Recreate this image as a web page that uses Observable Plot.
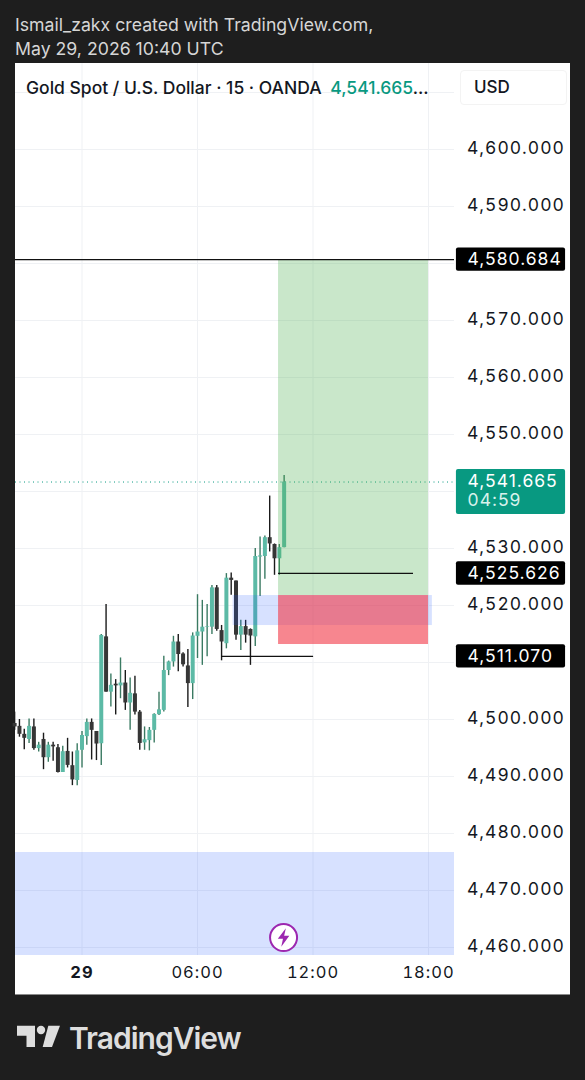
<!DOCTYPE html>
<html>
<head>
<meta charset="utf-8">
<script src="https://cdn.jsdelivr.net/npm/d3@7"></script>
<script src="https://cdn.jsdelivr.net/npm/@observablehq/plot@0.6"></script>
<style>
html,body{margin:0;padding:0;background:#1e1e1e;width:585px;height:1080px;overflow:hidden;font-family:Inter,sans-serif}
.h{position:absolute;left:15px;color:#d6d6d6;font-size:17.7px;line-height:24px;white-space:nowrap}
#chart{position:absolute;left:15px;top:63px;width:555px;height:931px;background:#fff;box-shadow:0 1px 0 #8a8a8a}
#chart svg{display:block;overflow:visible}
#legend{position:absolute;left:26px;top:76px;font-size:17.5px;line-height:24px;font-weight:500;color:#131722;white-space:nowrap}
#legend span{color:#089981;margin-left:4px}
#usd{position:absolute;left:460px;top:70px;width:92px;height:33px;padding-left:13px;line-height:33px;font-size:17px;font-weight:500;color:#131722;background:#fff;border:1px solid #f3f3f3;border-radius:4px}
#logo{position:absolute;left:0;top:1015px}
#brand{position:absolute;left:69px;top:1019px;font-size:30px;line-height:38px;font-weight:600;color:#dedede;letter-spacing:-1px}
</style>
</head>
<body>
<div class="h" style="top:13px">Ismail_zakx created with TradingView.com,</div>
<div class="h" style="top:37px">May 29, 2026 10:40 UTC</div>
<div id="chart"></div>
<div id="legend">Gold Spot / U.S. Dollar · 15 · OANDA <span>4,541.665</span>...</div>
<div id="usd">USD</div>
<svg id="logo" width="60" height="40"><path fill="#dedede" d="M17 10.7H35V32H26.5V20.7H17Z"/><circle fill="#dedede" cx="41" cy="15" r="4.2"/><path fill="#dedede" d="M48.3 10.7H60L52 32H42.7Z"/></svg>
<div id="brand">TradingView</div>
<script>
// 15-minute candles, first one at 2026-05-28 20:30 UTC
const firstCandle = new Date(Date.UTC(2026, 4, 28, 20, 30));
const opens = [4499.3,4498.8,4497.4,4496.5,4498.7,4494.9,4496.5,4493.3,4495.5,4495.05,4490.7,4494.4,4491.9,4489.3,4494.6,4497.0,4499.5,4497.9,4495.75,4514.5,4504.8,4506.2,4505.9,4506.4,4502.9,4504.5,4501.3,4495.9,4496.3,4498.1,4500.85,4501.6,4508.6,4510.1,4513.6,4511.5,4509.4,4506.3,4514.6,4515.35,4516.2,4516.2,4523.1,4515.6,4513.3,4524.8,4524.3,4514.8,4516.3,4515.8,4514.5,4528.5,4528.6,4531.9,4530.7,4528.2,4530.15];
const highs = [4501.3,4500.0,4498.3,4500.1,4500.1,4496.0,4497.6,4496.0,4496.0,4495.6,4495.3,4496.7,4494.3,4495.75,4497.9,4500.1,4500.1,4497.9,4514.9,4520.2,4508.0,4507.0,4510.8,4508.6,4507.3,4507.6,4501.6,4498.7,4498.6,4501.0,4504.8,4511.1,4510.25,4514.6,4514.9,4511.7,4512.3,4515.2,4521.9,4520.9,4520.2,4523.5,4523.5,4516.5,4525.6,4525.7,4524.3,4517.4,4517.4,4515.9,4530.0,4532.0,4532.2,4539.2,4530.8,4530.7,4542.8];
const lows = [4498.1,4496.9,4494.7,4495.8,4494.6,4494.3,4491.2,4492.5,4492.7,4490.6,4490.7,4491.5,4488.4,4488.4,4491.5,4495.5,4492.9,4492.8,4491.95,4504.8,4502.2,4500.8,4503.65,4501.6,4498.1,4500.8,4494.6,4494.6,4494.5,4495.9,4500.7,4501.3,4507.7,4509.2,4508.4,4509.2,4502.1,4503.5,4510.7,4509.5,4511.0,4514.9,4515.5,4510.3,4512.4,4521.8,4513.9,4512.1,4513.4,4509.5,4512.8,4521.6,4524.6,4529.4,4525.3,4525.3,4530.15];
const closes = [4498.7,4497.4,4496.7,4498.8,4494.9,4495.5,4493.3,4495.5,4495.2,4490.7,4494.35,4491.95,4489.4,4494.5,4497.2,4499.5,4498.1,4495.7,4514.75,4504.8,4506.0,4505.9,4506.4,4502.9,4504.6,4501.3,4495.8,4496.45,4498.1,4500.9,4501.7,4508.6,4510.1,4513.6,4511.4,4509.6,4506.3,4514.65,4515.35,4516.2,4516.3,4523.1,4515.8,4513.6,4524.8,4524.4,4514.8,4516.3,4514.8,4514.65,4528.6,4528.7,4531.9,4530.8,4528.2,4530.15,4541.665];

const tickPrices = [4460,4470,4480,4490,4500,4520,4530,4550,4560,4570,4590,4600];
const gridPrices = [4460,4470,4480,4490,4500,4510,4520,4530,4540,4550,4560,4570,4580,4590,4600,4610];
const timeTicks = ["2026-05-29T00:00Z","2026-05-29T06:00Z","2026-05-29T12:00Z","2026-05-29T18:00Z"].map(s => new Date(s));
const timeLabels = ["29","06:00","12:00","18:00"];

const lastPrice = 4541.665;
const countdown = "04:59";
const takeProfit = 4580.684;
const levelA = 4525.626;
const levelB = 4511.07;
const t = h => new Date(Date.UTC(2026, 4, 29) + h * 3600e3);

const zoneBlueLow = {x1: t(-3.455), x2: t(19.35), y1: 4458.6, y2: 4476.67};
const zoneBlueMid = {x1: t(7.85), x2: t(18.2), y1: 4516.49, y2: 4521.75};
const zoneGreen = {x1: t(10.21), x2: t(18), y1: 4521.75, y2: takeProfit};
const zoneRed = {x1: t(10.21), x2: t(18), y1: 4513.16, y2: 4521.75};

const candles = opens.map((o, i) => ({
  time: new Date(+firstCandle + i * 15 * 60e3),
  open: o, high: highs[i], low: lows[i], close: closes[i], up: closes[i] >= o
}));
const upC = candles.filter(d => d.up), downC = candles.filter(d => !d.up);

const tagL = t(19.45), tagR = t(25.12), tagText = t(20.03);
const tags = [takeProfit, levelA, levelB];
const fmt = d3.format(",.3f");

const bolt = {draw(c, size){
  const s = Math.sqrt(size) / 10;
  c.moveTo(2*s,-8*s); c.lineTo(-5*s,1*s); c.lineTo(-0.5*s,1*s); c.lineTo(-2*s,8*s);
  c.lineTo(5*s,-1.5*s); c.lineTo(0.5*s,-1.5*s); c.closePath();
}};

const plot = Plot.plot({
  width: 555, height: 931,
  marginLeft: 0, marginRight: 116, marginTop: 0, marginBottom: 39,
  x: {type: "utc", domain: [t(-3.455), t(19.35)], range: [0, 439]},
  y: {domain: [4458.6, 4615.09], range: [892, 0]},
  style: {fontFamily: "Inter, sans-serif", fontSize: "17.5px", color: "#131722", background: "#fff", letterSpacing: "1px"},
  marks: [
    Plot.gridX(timeTicks, {stroke: "#eff1f4", strokeOpacity: 1}),
    Plot.ruleY(gridPrices, {stroke: "#eff1f4"}),
    Plot.ruleY([lastPrice], {stroke: "#089981", strokeDasharray: "1 3.5", strokeWidth: 1}),
    Plot.ruleX(upC, {x: "time", y1: "low", y2: "high", stroke: "#3a7a62", strokeWidth: 1.4}),
    Plot.ruleX(downC, {x: "time", y1: "low", y2: "high", stroke: "#1a1a1a", strokeWidth: 1.4}),
    Plot.ruleX(upC, {x: "time", y1: "open", y2: "close", stroke: "#5cbaa6", strokeWidth: 4}),
    Plot.ruleX(downC, {x: "time", y1: "open", y2: "close", stroke: "#363636", strokeWidth: 4}),
    Plot.rect([zoneBlueLow], {x1: "x1", x2: "x2", y1: "y1", y2: "y2", fill: "#2962ff", fillOpacity: 0.19}),
    Plot.rect([zoneBlueMid], {x1: "x1", x2: "x2", y1: "y1", y2: "y2", fill: "#2962ff", fillOpacity: 0.19}),
    Plot.rect([zoneGreen], {x1: "x1", x2: "x2", y1: "y1", y2: "y2", fill: "#4caf50", fillOpacity: 0.3}),
    Plot.rect([zoneRed], {x1: "x1", x2: "x2", y1: "y1", y2: "y2", fill: "#f23645", fillOpacity: 0.6}),
    Plot.ruleY([takeProfit], {stroke: "#111", strokeWidth: 1.3}),
    Plot.ruleY([levelA], {x1: t(10.21), x2: t(17.22), stroke: "#111", strokeWidth: 1.3}),
    Plot.ruleY([levelB], {x1: t(7.25), x2: t(12.03), stroke: "#111", strokeWidth: 1.3}),
    Plot.dot([{x: t(10.47), y: 4461.75}], {x: "x", y: "y", r: 13.5, fill: "#fff", stroke: "#9c27b0", strokeWidth: 2}),
    Plot.dot([{x: t(10.47), y: 4461.75}], {x: "x", y: "y", r: 6.5, symbol: bolt, fill: "#9c27b0", stroke: "none"}),
    Plot.axisY({anchor: "right", ticks: tickPrices, tickSize: 0, tickPadding: 12.5, tickFormat: fmt, label: null, dy: -1.5, stroke: "none", fill: "#131722"}),
    Plot.axisX({anchor: "bottom", ticks: timeTicks.slice(1), tickSize: 0, tickPadding: 11, tickFormat: d => timeLabels[timeTicks.findIndex(v => +v === +d)], label: null, fill: "#131722", fontSize: 16.5}),
    Plot.axisX({anchor: "bottom", ticks: timeTicks.slice(0, 1), tickSize: 0, tickPadding: 11, tickFormat: () => timeLabels[0], label: null, fontWeight: 700, fill: "#131722", fontSize: 16.5}),
    Plot.rect(tags, {x1: tagL, x2: tagR, y1: d => d - 2.05, y2: d => d + 2.05, fill: "#000", rx: 2}),
    Plot.rect([lastPrice], {x1: tagL, x2: tagR, y1: 4535.96, y2: 4543.86, fill: "#089981", rx: 2}),
    Plot.text(tags, {x: tagText, y: d => d, text: d => fmt(d), textAnchor: "start", fill: "#fff", dy: -0.5}),
    Plot.text([lastPrice], {x: tagText, y: d => d, text: d => fmt(d), textAnchor: "start", fill: "#fff", dy: -0.5}),
    Plot.text([lastPrice], {x: tagText, y: d => d, text: () => countdown, textAnchor: "start", fill: "#d8f2ec", dy: 18.5})
  ]
});
document.getElementById("chart").append(plot);
</script>
</body>
</html>
